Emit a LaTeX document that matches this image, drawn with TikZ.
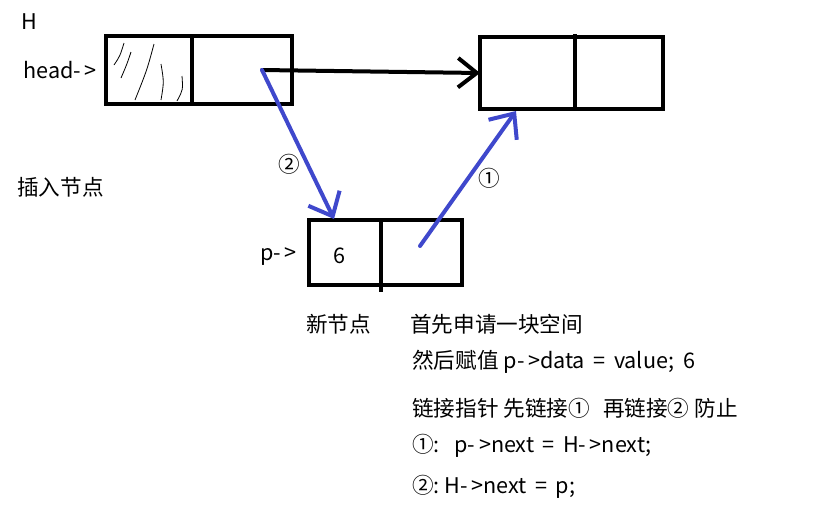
\documentclass[tikz,border=0pt]{standalone}
\usepackage{fontspec}
\setmainfont{Noto Sans CJK SC}
\usepackage{tikz}
\usetikzlibrary{positioning, arrows.meta, calc}
\definecolor{penblue}{HTML}{3F48CC}
\definecolor{inkblack}{HTML}{000000}
\tikzset{
  % one cell of a list node
  cell/.style 2 args={draw=inkblack, line width=3pt, inner sep=0pt, outer sep=0pt,
                      minimum width=#1*0.75pt, minimum height=#2*0.75pt},
  % plain text label
  lbl/.style={anchor=west, inner sep=0pt, font=\fontsize{16.2}{19}\selectfont},
  % pointer arrows
  ptr/.style={draw=inkblack, line width=3pt, line cap=round,
              -{Straight Barb[length=14pt,width=22pt]}},
  bluelink/.style={draw=penblue, line width=3pt, line cap=round,
                   -{Straight Barb[length=15pt,width=26pt]}},
}

\begin{document}
\begin{tikzpicture}[x=0.75pt, y=-0.75pt]
  \useasboundingbox (0,0) rectangle (833,512);
  % head node
  \node[cell={86}{68}]  (hdata) at (149,70) {};
  \node[cell={100}{68}] (hnext) at (242,70) {};
  \foreach \a/\b/\c/\d/\e/\f in {124/43/120/56/114/65, 131/52/127/64/121/78,
      154/44/147/70/135/100, 161/64/164/82/161/100, 182/76/183/90/177/101}
    \draw[line width=0.6pt] (\a,\b) .. controls (\c,\d) .. (\e,\f);
  % first node after head
  \node[cell={95}{72}] (adata) at (527.5,73) {};
  \node[cell={88}{72}] (anext) at (619,73) {};
  \draw[line width=3pt] (adata.north east) -- ++(0,-3);
  % new node p
  \node[cell={72}{65}] (pdata) at (345,252.5) {};
  \node[cell={81}{65}] (pnext) at (421.5,252.5) {};
  \draw[line width=3pt] (pnext.south west) -- ++(0,7);
  \node[lbl, anchor=center] (six) at (339,256) {6};

  \coordinate (hstart) at (262,70);
  \coordinate (ptip) at (334,219);
  \coordinate (pstart) at (420,246);
  \coordinate (atip) at (516,111);
  \draw[ptr] (hstart) -- (adata.west);
  \draw[bluelink] (hstart) -- (ptip);
  \draw[bluelink] (pstart) -- (atip);

  \node[lbl, anchor=center] (two) at (289,164) {②};
  \node[lbl, anchor=center] (one) at (489,178) {①};

  \node[lbl] (hname) at (21,22) {H};
  \node[lbl] (headp) at (23,70) {head-\,>};
  \node[lbl] (title) at (17,187) {插入节点};
  \node[lbl] (pp) at (260,257) {p-\,>};
  \node[lbl] (newn) at (306,324) {新节点};
  \node[lbl] (s1) at (410,324) {首先申请一块空间};
  \node[lbl] (s2) at (412,362) {然后赋值 p-\,>data \,=\, value;\ \ 6};
  \node[lbl] (s3) at (412,408) {链接指针 先链接①\ \ \,再链接② 防止};
  \node[lbl] (s4) at (412,446) {①:\ \ \ p-\,>next \,=\, H-\,>next;};
  \node[lbl] (s5) at (412,487) {②:\ H-\,>next \,=\, p;};
\end{tikzpicture}
\end{document}
